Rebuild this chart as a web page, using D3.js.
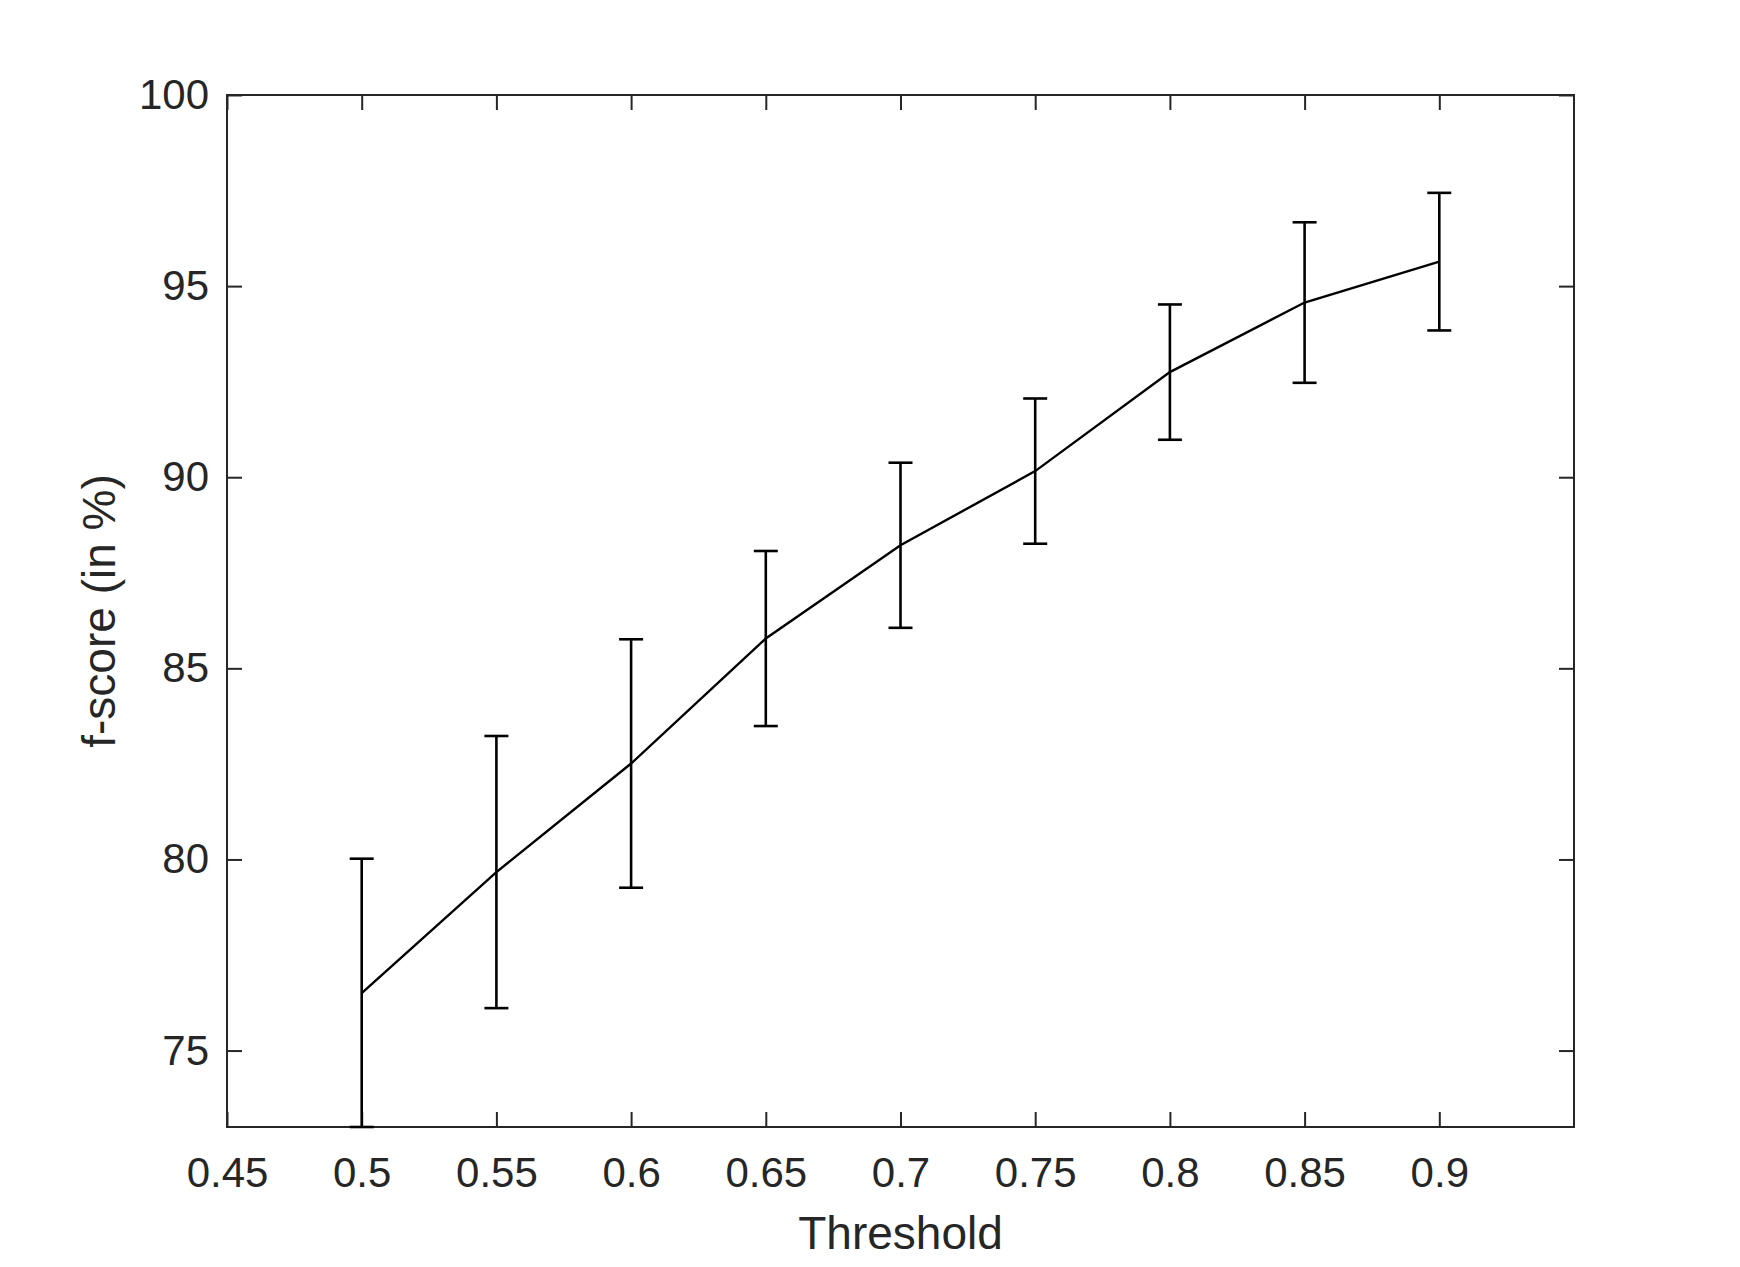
<!DOCTYPE html>
<html>
<head>
<meta charset="utf-8">
<script src="https://cdn.jsdelivr.net/npm/d3@7"></script>
<style>
  body { margin: 0; background: #fff; }
  svg { display: block; font-family: "Liberation Sans", Arial, sans-serif; }
</style>
</head>
<body>
<div id="chart"></div>
<script>
// data
var thresholds = [0.5, 0.55, 0.6, 0.65, 0.7, 0.75, 0.8, 0.85, 0.9];
var fscore     = [76.5, 79.67, 82.51, 85.78, 88.22, 90.16, 92.75, 94.57, 95.64];
var errors     = [3.52, 3.56, 3.25, 2.29, 2.16, 1.9, 1.77, 2.1, 1.8];
var xTicks = [0.45, 0.5, 0.55, 0.6, 0.65, 0.7, 0.75, 0.8, 0.85, 0.9];
var yTicks = [75, 80, 85, 90, 95, 100];

var W = 1740, H = 1267;
var margin = { top: 95, right: 166, bottom: 140, left: 227 };
var width = W - margin.left - margin.right;
var height = H - margin.top - margin.bottom;
var axisColor = "#262626";

var svg = d3.select("#chart")
       .append("svg")
       .attr("width", W)
       .attr("height", H)
       .append("g")
       .attr("transform", "translate(" + margin.left + "," + margin.top + ")");

var x = d3.scaleLinear().domain([0.45, 0.95]).range([0, width]);
var y = d3.scaleLinear().domain([73, 100]).range([height, 0]);

var fmt = d3.format("~g");

function styleAxis(g) {
       g.select(".domain").remove();
       g.selectAll(".tick line").attr("stroke", axisColor).attr("stroke-width", 2);
       g.selectAll(".tick text").attr("fill", axisColor).style("font-size", "42px");
}

// bottom / left axes with labels, ticks pointing inward
svg.append("g")
       .attr("transform", "translate(0," + height + ")")
       .call(d3.axisBottom(x).tickValues(xTicks).tickFormat(fmt)
              .tickSizeInner(-15).tickSizeOuter(0).tickPadding(30))
       .call(styleAxis);

svg.append("g")
       .call(d3.axisLeft(y).tickValues(yTicks).tickFormat(fmt)
              .tickSizeInner(-15).tickSizeOuter(0).tickPadding(18))
       .call(styleAxis);

// mirrored ticks on top / right
svg.append("g")
       .call(d3.axisTop(x).tickValues(xTicks).tickFormat("")
              .tickSizeInner(-15).tickSizeOuter(0))
       .call(styleAxis);

svg.append("g")
       .attr("transform", "translate(" + width + ",0)")
       .call(d3.axisRight(y).tickValues(yTicks).tickFormat("")
              .tickSizeInner(-15).tickSizeOuter(0))
       .call(styleAxis);

// box
svg.append("rect")
       .attr("x", 0).attr("y", 0)
       .attr("width", width).attr("height", height)
       .attr("fill", "none")
       .attr("stroke", axisColor)
       .attr("stroke-width", 2);

var pts = thresholds.map(function (t, i) {
       return { t: t, v: fscore[i], e: errors[i] };
});

// main line
svg.append("path")
       .datum(pts)
       .attr("d", d3.line()
              .x(function (d) { return x(d.t); })
              .y(function (d) { return y(d.v); }))
       .attr("fill", "none")
       .attr("stroke", "#000")
       .attr("stroke-width", 2.4);

// error bars
var capW = 12;
var eb = svg.append("g").attr("stroke", "#000").attr("stroke-width", 2.6);
pts.forEach(function (d) {
       var lo = Math.max(d.v - d.e, 73);
       var hi = d.v + d.e;
       eb.append("line")
              .attr("x1", x(d.t)).attr("x2", x(d.t))
              .attr("y1", y(lo)).attr("y2", y(hi));
       eb.append("line")
              .attr("x1", x(d.t) - capW).attr("x2", x(d.t) + capW)
              .attr("y1", y(hi)).attr("y2", y(hi));
       eb.append("line")
              .attr("x1", x(d.t) - capW).attr("x2", x(d.t) + capW)
              .attr("y1", y(lo)).attr("y2", y(lo));
});

// axis titles
svg.append("text")
       .attr("x", width / 2)
       .attr("y", height + 122)
       .attr("text-anchor", "middle")
       .attr("fill", axisColor)
       .style("font-size", "46px")
       .text("Threshold");

svg.append("text")
       .attr("transform", "translate(" + (-112) + "," + (height / 2) + ") rotate(-90)")
       .attr("text-anchor", "middle")
       .attr("fill", axisColor)
       .style("font-size", "46px")
       .text("f-score (in %)");
</script>
</body>
</html>
